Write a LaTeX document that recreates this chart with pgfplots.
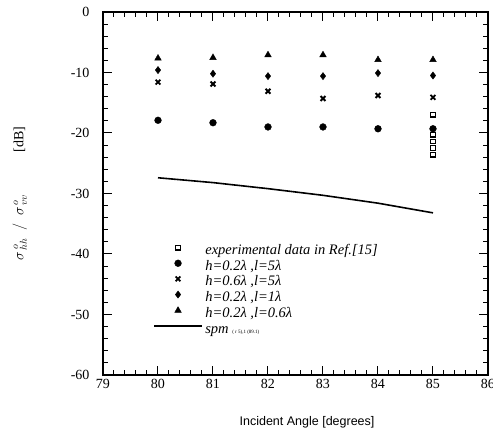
\documentclass[border=0pt]{standalone}
\usepackage{fontspec}
\setmainfont{Liberation Serif}
\newfontfamily\arialfont{Liberation Sans}
\usepackage{pgfplots}
\pgfplotsset{compat=1.18}
\begin{document}
\begin{tikzpicture}
\begin{axis}[
  name=ax,
  scale only axis, width=385pt, height=363pt,
  xmin=79, xmax=86, ymin=-60, ymax=0,
  xtick={79,80,...,86}, ytick={-60,-50,...,0},
  minor x tick num=4, minor y tick num=4,
  tick align=inside, major tick length=9pt, minor tick length=5pt,
  every tick/.style={black, line width=1pt},
  axis line style={line width=1.3pt},
  tick label style={font=\fontsize{14}{16}\selectfont},
  /pgf/number format/assume math mode=true,
  yticklabel style={xshift=-10pt},
  xticklabel style={yshift=-1pt},
  xlabel={\arialfont\fontsize{12.5}{14}\selectfont Incident Angle [degrees]},
  xlabel style={at={(axis description cs:0.53,-0.129)}, anchor=center},
  ylabel={$\sigma^{\,o}_{\,hh}\;\;/\;\;\sigma^{\,o}_{\,vv}$\qquad\quad[dB]},
  ylabel style={at={(axis description cs:-0.216,0.5)}, anchor=center, font=\fontsize{14}{16}\selectfont},
  legend image code/.code={\draw[mark repeat=2,mark phase=2,#1] plot coordinates {(-24pt,3.5pt) (0pt,3.5pt) (24pt,3.5pt)};},
  legend style={at={(axis description cs:0.130,0.361)}, anchor=north west, draw=none, fill=none, inner sep=0pt,
    nodes={inner sep=0.5pt, anchor=west, text height=10pt, text depth=3pt, font=\fontsize{14.5}{15}\selectfont\itshape},
    row sep=1.6pt, column sep=2pt},
  legend cell align=left,
]
\addplot[only marks, mark=square, mark size=2.3pt, line width=1.3pt, black] coordinates {
  (85,-17.0) (85,-20.3) (85,-21.4) (85,-22.5) (85,-23.6)};
\addlegendentry{experimental data in Ref.[15]}
\addplot[only marks, mark=*, mark size=3.4pt, black] coordinates {
  (80,-17.9) (81,-18.3) (82,-19.0) (83,-19.0) (84,-19.3) (85,-19.3)};
\addlegendentry{h=0.2λ ,l=5λ}
\addplot[only marks, mark=x, mark size=3.4pt, line width=1.8pt, black] coordinates {
  (80,-11.6) (81,-11.9) (82,-13.1) (83,-14.3) (84,-13.8) (85,-14.1)};
\addlegendentry{h=0.6λ ,l=5λ}
\addplot[only marks, mark=diamond*, mark size=3.6pt, black] coordinates {
  (80,-9.6) (81,-10.2) (82,-10.6) (83,-10.6) (84,-10.1) (85,-10.5)};
\addlegendentry{h=0.2λ ,l=1λ}
\addplot[only marks, mark=triangle*, mark size=3.8pt, black] coordinates {
  (80,-7.65) (81,-7.55) (82,-7.1) (83,-7.1) (84,-7.9) (85,-7.9)};
\addlegendentry{h=0.2λ ,l=0.6λ}
\addplot[mark=none, black, line width=1.6pt] coordinates {
  (80,-27.4) (81,-28.2) (82,-29.2) (83,-30.3) (84,-31.6) (85,-33.2)};
\addlegendentry{spm {\upshape\fontsize{5}{6}\selectfont ( r 5),1 (89.1)}}
\end{axis}
\pgfresetboundingbox
\path ([shift={(-103pt,-72pt)}]ax.south west) rectangle ++(493pt,447pt);
\end{tikzpicture}
\end{document}
